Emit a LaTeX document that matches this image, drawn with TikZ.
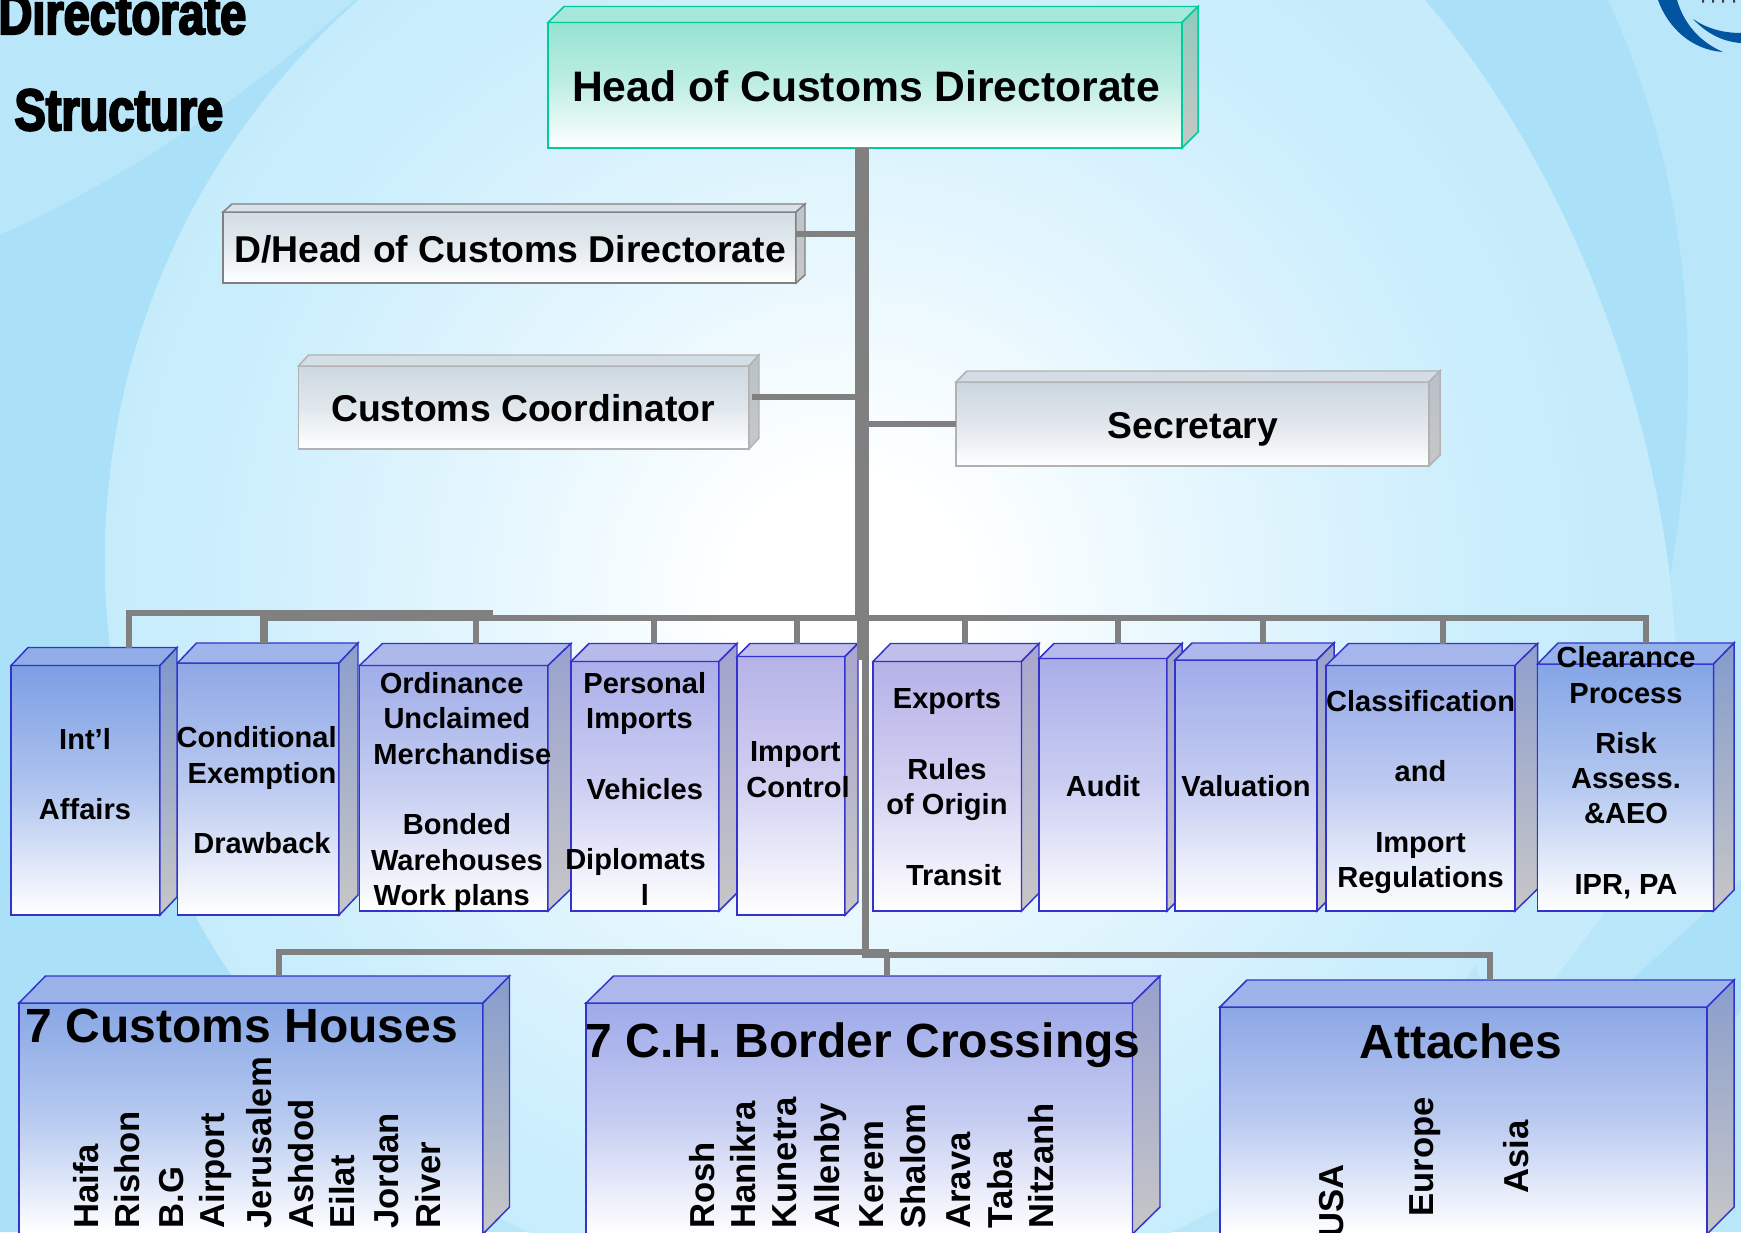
\documentclass[tikz,border=0pt]{standalone}
\usepackage{fontspec}
\setmainfont{Liberation Sans}
\newfontfamily\titlefont[FakeBold=3.5,FakeStretch=0.8]{Liberation Sans Bold}

\definecolor{skyBase}{RGB}{186,230,250}
\definecolor{skyDark}{RGB}{170,225,248}
\definecolor{skyRim}{RGB}{198,236,252}
\definecolor{barGray}{RGB}{128,128,128}
\definecolor{cubeBlue}{RGB}{51,51,204}
\definecolor{cubeGreen}{RGB}{0,204,153}
\definecolor{logoBlue}{RGB}{0,84,160}
\definecolor{faceHead}{RGB}{150,227,210}
\definecolor{faceDhead}{RGB}{210,221,228}
\definecolor{faceCoord}{RGB}{204,216,224}
\definecolor{faceSecr}{RGB}{204,214,224}
\definecolor{faceIntl}{RGB}{124,158,228}
\definecolor{faceCond}{RGB}{143,168,230}
\definecolor{faceOrd}{RGB}{160,173,232}
\definecolor{facePers}{RGB}{171,174,233}
\definecolor{faceImp}{RGB}{181,178,232}
\definecolor{faceAudit}{RGB}{169,174,233}
\definecolor{faceValu}{RGB}{159,172,233}
\definecolor{faceClas}{RGB}{148,169,232}
\definecolor{faceClear}{RGB}{132,165,230}
\definecolor{faceHouses}{RGB}{135,166,229}
\definecolor{faceBorder}{RGB}{159,170,233}
\definecolor{faceAttach}{RGB}{140,167,230}

\pgfdeclareradialshading{skyglow}{\pgfpoint{0bp}{-1.5bp}}{color(0bp)=(white);color(4bp)=(white);color(12bp)=(skyRim!45!white);color(20bp)=(skyRim!85!white);color(25bp)=(skyRim);color(50bp)=(skyRim)}

\tikzset{every picture/.style={line width=0.75pt}}
\tikzset{
  bar/.style={draw=barGray,line width=5.2pt},
  thinbar/.style={draw=barGray,line width=4.5pt},
  toptext/.style={font=\fontsize{32}{38}\selectfont\bfseries,inner sep=0pt},
  stafftext/.style={font=\fontsize{28}{32}\selectfont\bfseries,inner sep=0pt},
  unittext/.style={font=\fontsize{21.8}{26.5}\selectfont\bfseries,align=center,inner sep=0pt},
  headtext/.style={font=\fontsize{36}{42}\selectfont\bfseries,inner sep=0pt},
  placetext/.style={font=\fontsize{26}{30}\selectfont\bfseries,rotate=90,anchor=west,inner sep=0pt},
  titletext/.style={font=\fontsize{44}{50}\selectfont\titlefont,inner sep=0pt,anchor=west}
}

% name, x1, y1, x2, y2, depth x, depth y, line colour, face colour
\newcommand{\cubebox}[9]{
  \node [draw=#8,line width=1.1pt,inner sep=0pt,outer sep=0pt,top color=#9,bottom color=white,middle color=#9!60!white,
    minimum width={(#4-#2)*0.75pt},minimum height={(#5-#3)*0.75pt}] (#1) at ({(#2+#4)/2},{(#3+#5)/2}) {};
  \draw [draw=#8,line width=1.1pt,fill=#9!85!white] (#1.north west) -- ++(#6,-#7) -- ++({#4-#2},0) -- (#1.north east) -- cycle;
  \draw [draw=#8,line width=1.1pt,top color=#9!75!gray,bottom color=black!22] (#1.north east) -- ++(#6,-#7) -- ++(0,{#5-#3}) -- (#1.south east) -- cycle;
  \path (#1.north) ++(#6,-#7) coordinate (#1-back);
}

\begin{document}
\begin{tikzpicture}[x=0.75pt,y=0.75pt,yscale=-1,xscale=1]
\useasboundingbox (0,0) rectangle (1741,1232);
\clip (0,0) rectangle (1741,1232);

% Background
\fill [skyBase] (0,0) rectangle (1741,1232);
\fill [skyDark] (355,0) .. controls (220,120) and (100,190) .. (0,235) -- (0,1232) -- (400,1232) -- (800,800) -- cycle;
\fill [skyDark] (1741,880) -- (1741,1010) -- (1560,1232) -- (1400,1232) -- (1500,1100) -- cycle;
\fill [skyRim] (1200,0) -- (1425,0) .. controls (1530,120) and (1640,330) .. (1670,577) -- (1690,800) -- (1500,1050) -- cycle;
\path [shading=skyglow] (850,560) circle (745);
\fill [skyDark] (1425,0) .. controls (1530,120) and (1640,330) .. (1670,577) .. controls (1700,400) and (1700,200) .. (1608,0) -- cycle;

% Logo
\fill [logoBlue] (1658,0) .. controls (1668,28) and (1692,50) .. (1723,52) .. controls (1700,42) and (1684,24) .. (1677,0) -- cycle;
\fill [logoBlue] (1693,19) .. controls (1708,35) and (1725,42) .. (1741,43) -- (1741,33) .. controls (1722,33) and (1706,28) .. (1693,19) -- cycle;
\fill [black!75] (1702,0) rectangle (1704,2.5) (1712,0) rectangle (1714,2.5) (1722,0) rectangle (1724,2.5) (1733,0) rectangle (1735,2.5);

% Title
\node [titletext] (titleA) at (-2,13) {Directorate};
\node [titletext] (titleB) at (14,110) {Structure};

% Boxes
\cubebox{head}{548}{22.5}{1182}{148}{16}{16}{cubeGreen}{faceHead}
\cubebox{dhead}{223}{212}{796}{283}{9}{8}{black!50}{faceDhead}
\cubebox{coord}{298.5}{366}{749}{449}{10}{11}{black!30}{faceCoord}
\cubebox{secr}{956}{382}{1429}{466}{11}{11}{black!30}{faceSecr}

\cubebox{intl}{11}{665.5}{160}{915}{17}{18}{cubeBlue}{faceIntl}
\cubebox{cond}{177.5}{663}{339}{915}{19}{20}{cubeBlue}{faceCond}
\cubebox{ord}{359.5}{665.5}{548}{911}{23}{22}{cubeBlue}{faceOrd}
\cubebox{pers}{571}{661.5}{719}{911}{18}{18}{cubeBlue}{facePers}
\cubebox{imp}{737}{656.5}{845}{915}{13}{13}{cubeBlue}{faceImp}
\cubebox{expo}{873}{661.5}{1021.5}{911}{17.5}{18}{cubeBlue}{faceImp}
\cubebox{audit}{1039}{658.5}{1167}{911}{15}{15}{cubeBlue}{faceAudit}
\cubebox{valu}{1175}{660}{1317}{911}{17}{17}{cubeBlue}{faceValu}
\cubebox{clas}{1326}{665.5}{1515}{911}{22.5}{22}{cubeBlue}{faceClas}
\cubebox{clear}{1537.5}{664}{1713.5}{911}{20.5}{21}{cubeBlue}{faceClear}

\cubebox{houses}{19}{1003}{483}{1234}{26.5}{27}{cubeBlue}{faceHouses}
\cubebox{border}{586}{1003}{1132.5}{1234}{27.5}{27}{cubeBlue}{faceBorder}
\cubebox{attach}{1220}{1007}{1707}{1234}{27}{27}{cubeBlue}{faceAttach}

% Trunk and buses
\draw [draw=barGray,line width=9.8pt] (head.south -| 862,0) -- (862,618);
\draw [bar] (865.5,618) -- (865.5,958);
\draw [thinbar] (860,618) -- (860,660);

\draw [thinbar] (862,234) -- (dhead.east |- 862,234);
\draw [thinbar] (862,397) -- (752,397);
\draw [thinbar] (862,424) -- (secr.west |- 862,424);

\draw [thinbar] (129,0 |- intl-back) -- (129,613) -- (493,613);
\draw [draw=barGray,line width=6pt] (264,614) -- (493,614);
\draw [bar] (264,618) -- (860,618);
\draw [bar] (860,618) -- (1649,618);
\draw [thinbar] (1646,618) -- (1646,0 |- clear-back);
\draw [draw=barGray,line width=6pt] (264,614) -- (264,0 |- cond-back);
\draw [thinbar] (476,618) -- (476,0 |- ord-back);
\draw [thinbar] (654,618) -- (654,0 |- pers-back);
\draw [thinbar] (797,618) -- (797,0 |- imp-back);
\draw [thinbar] (965,618) -- (965,0 |- expo-back);
\draw [thinbar] (1118,618) -- (1118,0 |- audit-back);
\draw [thinbar] (1263,618) -- (1263,0 |- valu-back);
\draw [thinbar] (1443,618) -- (1443,0 |- clas-back);

\draw [thinbar] (865,951.5) -- (278.5,951.5) -- (278.5,0 |- houses-back);
\draw [thinbar] (865,955) -- (1490,955) -- (1490,0 |- attach-back);
\draw [draw=barGray,line width=6.5pt] (862,953.5) -- (889,953.5);
\draw [thinbar] (886.5,955) -- (886.5,0 |- border-back);

% Text Nodes
\node [toptext] (headT) at (866,86) {Head of Customs Directorate};
\node [stafftext] (dheadT) at (510,249) {D/Head of Customs Directorate};
\node [stafftext] (coordT) at (523,408) {Customs Coordinator};
\node [stafftext] (secrT) at (1193,429) {Secretary};

\node [unittext] (intlT) at (85,774) {Int’l\\[26.5pt]Affairs};
\node [unittext] (condT) at (262,790.5) {\hspace*{-8pt}Conditional\\Exemption\\[26.5pt]Drawback};
\node [unittext] (ordT) at (457,792) {Ordinance\hspace*{8pt}\\Unclaimed\hspace*{8pt}\\\hspace*{8pt}Merchandise\\[26.5pt]Bonded\hspace*{14pt}\\Warehouses\\Work plans\hspace*{8pt}};
\node [unittext] (persT) at (635.5,788.5) {\hspace*{14pt}Personal\\\hspace*{6pt}Imports\\[26.5pt]\hspace*{14pt}Vehicles\\[26.5pt]Diplomats\\\hspace*{14pt}l};
\node [unittext] (impT) at (798,769.5) {Import\hspace*{4pt}\\Control};
\node [unittext] (expoT) at (947,787) {Exports\\[26.5pt]Rules\hspace*{6pt}\\of Origin\\[26.5pt]\hspace*{10pt}Transit};
\node [unittext] (auditT) at (1103,786) {Audit};
\node [unittext] (valuT) at (1246,786) {Valuation};
\node [unittext] (clasT) at (1420.5,792) {Classification\\[26.5pt]and\\[26.5pt]Import\\Regulations};
\node [unittext] (clearT) at (1626,773) {Clearance\\Process\\[11pt]Risk\\Assess.\\\&AEO\\[26.5pt]IPR, PA};

\node [headtext] (housesT) at (242,1026) {7 Customs Houses};
\node [headtext] (borderT) at (863,1045) {7 C.H. Border Crossings};
\node [headtext] (attachT) at (1461,1041) {Attaches};

\node [placetext] (p1) at (86,1229) {Haifa};
\node [placetext] (p2) at (127.5,1229) {Rishon};
\node [placetext] (p3) at (172,1229) {B.G};
\node [placetext] (p4) at (216,1229) {Airport};
\node [placetext] (p5) at (259,1229) {Jerusalem};
\node [placetext] (p6) at (301,1229) {Ashdod};
\node [placetext] (p7) at (342,1229) {Eilat};
\node [placetext] (p8) at (386,1229) {Jordan};
\node [placetext] (p9) at (428,1229) {River};

\node [placetext] (q1) at (702,1229) {Rosh};
\node [placetext] (q2) at (743.5,1229) {Hanikra};
\node [placetext] (q3) at (785,1229) {Kunetra};
\node [placetext] (q4) at (831,1229) {Allenby};
\node [placetext] (q5) at (872,1229) {Kerem};
\node [placetext] (q6) at (913,1229) {Shalom};
\node [placetext] (q7) at (959,1229) {Arava};
\node [placetext] (q8) at (1000,1229) {Taba};
\node [placetext] (q9) at (1041,1229) {Nitzanh};

\node [placetext] (r1) at (1332,1238) {USA};
\node [placetext] (r2) at (1425,1217) {Europe};
\node [placetext] (r3) at (1516.5,1194) {Asia};

\end{tikzpicture}
\end{document}
